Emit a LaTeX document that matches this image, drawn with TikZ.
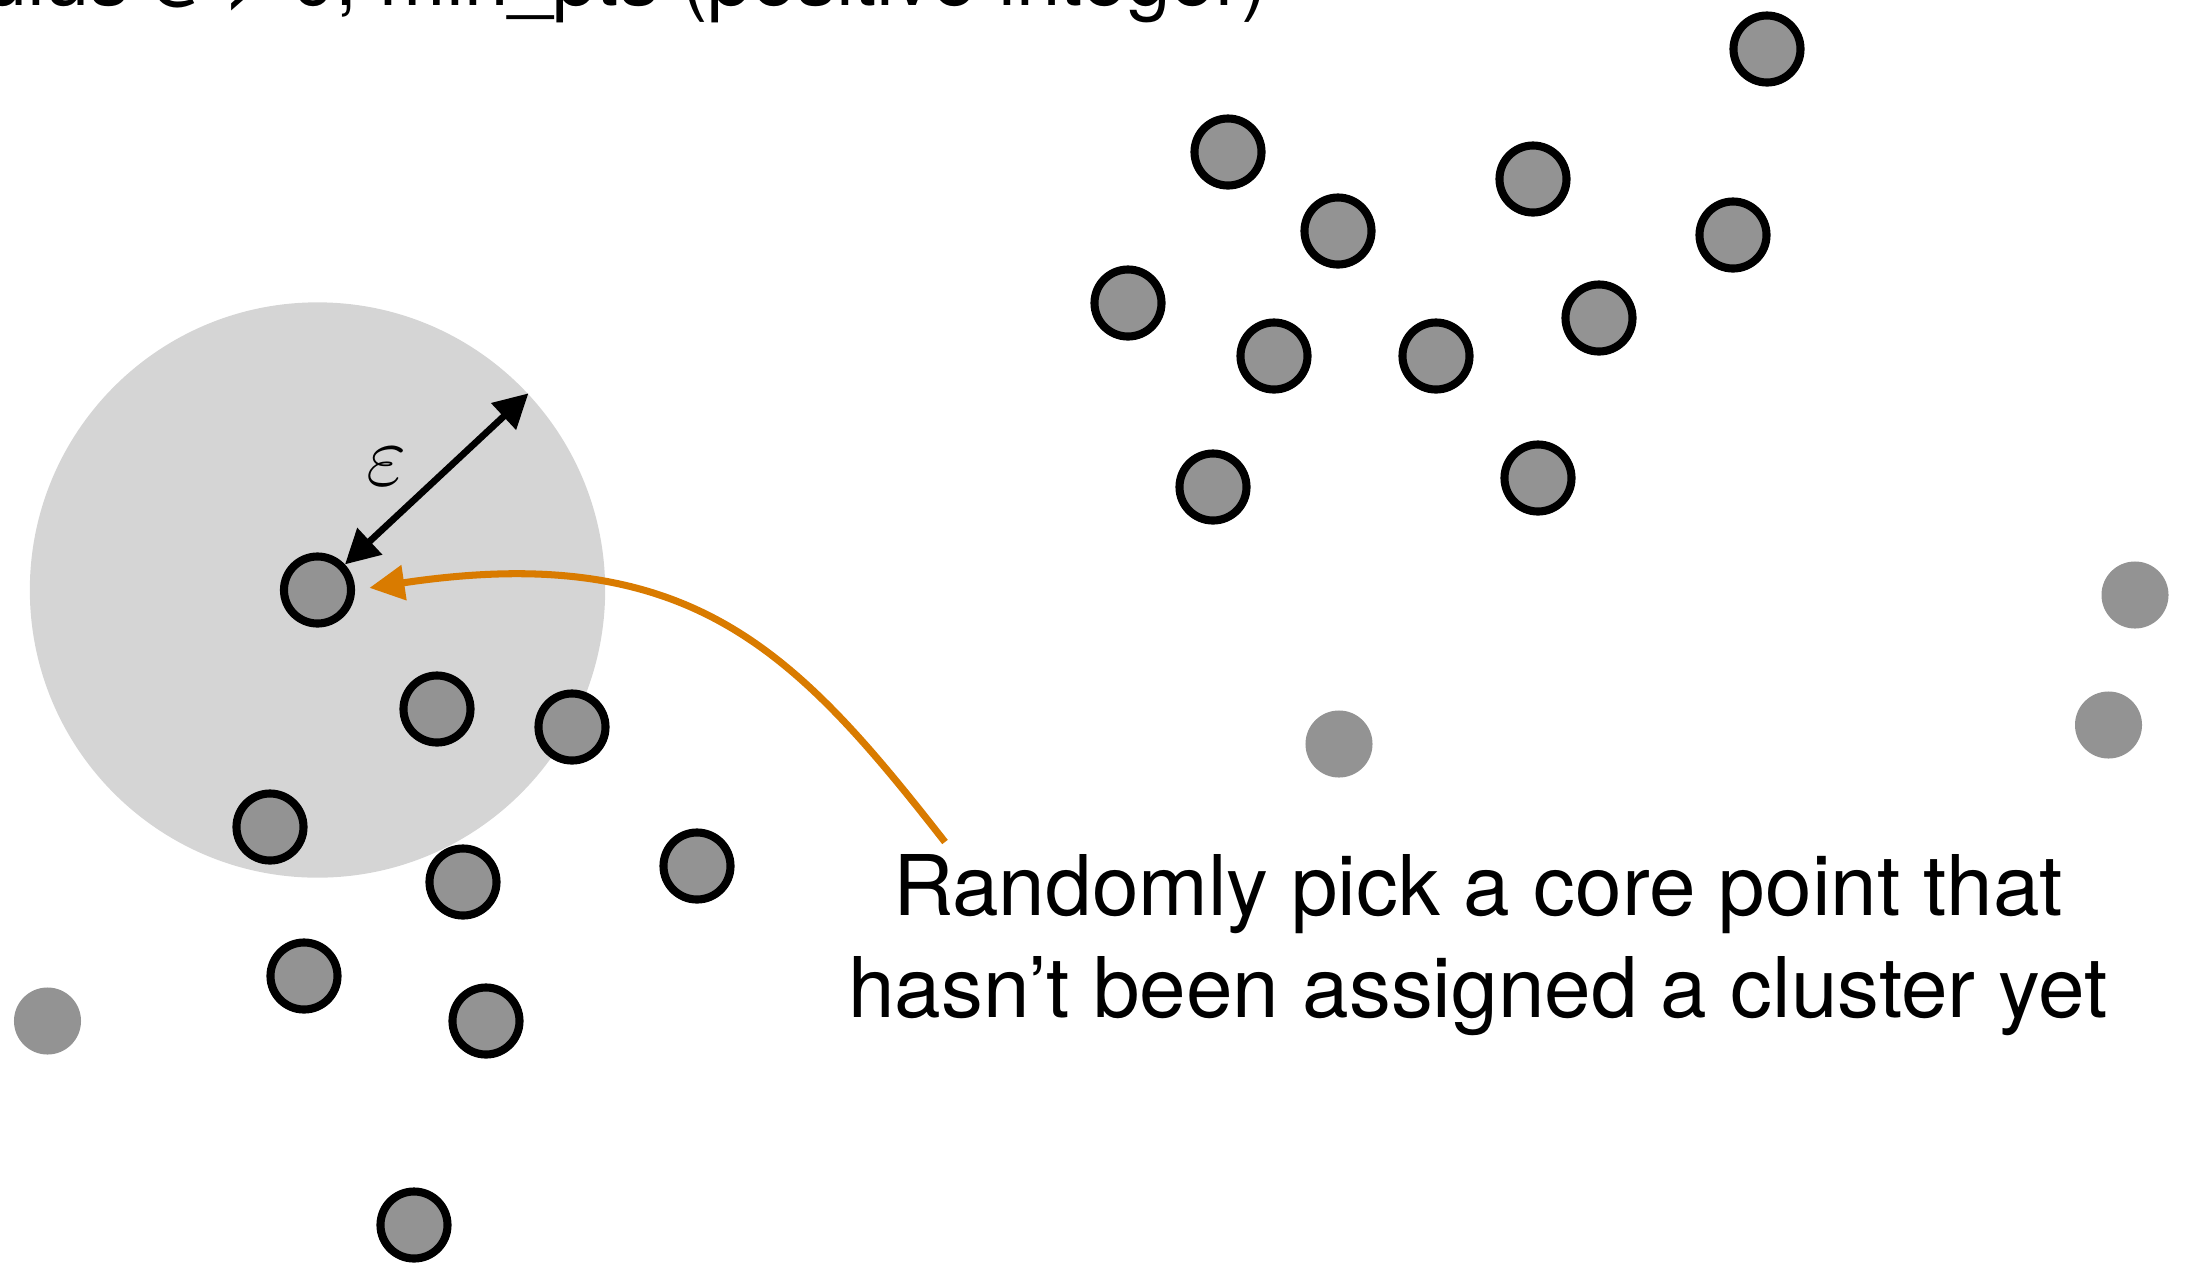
\documentclass[tikz,border=0pt]{standalone}
\usepackage{fontspec}
\setmainfont{TeX Gyre Heros}
\usetikzlibrary{arrows.meta}
\definecolor{ptgray}{RGB}{147,147,147}
\definecolor{halo}{RGB}{213,213,213}
\definecolor{orng}{RGB}{217,123,0}
\begin{document}
\begin{tikzpicture}[x=0.01cm,y=-0.01cm,
  core/.style={circle,draw=black,line width=2.3pt,fill=ptgray,minimum size=0.67cm,inner sep=0pt},
  noise/.style={circle,fill=ptgray,minimum size=0.67cm,inner sep=0pt},
  lbl/.style={font=\fontsize{23.8}{29}\selectfont,inner sep=0pt},
  epsarrow/.style={line width=1.9pt,{Triangle[length=0.34cm,width=0.35cm]}-{Triangle[length=0.34cm,width=0.35cm]}},
  pointer/.style={orng,line width=2pt,-{Triangle[length=0.35cm,width=0.34cm]}}
]
\useasboundingbox (0,0) rectangle (2190,1263);
\clip (0,0) rectangle (2190,1263);
% neighbourhood
\node[circle,fill=halo,minimum size=5.75cm,inner sep=0pt] (ball) at (317.5,590) {};
% right cluster
\node[core] (r1) at (1767,49) {};
\node[core] (r2) at (1228,152) {};
\node[core] (r3) at (1533,179) {};
\node[core] (r4) at (1338,231) {};
\node[core] (r5) at (1733,235) {};
\node[core] (r6) at (1128,303) {};
\node[core] (r7) at (1274,356) {};
\node[core] (r8) at (1436,356) {};
\node[core] (r9) at (1599,318) {};
\node[core] (r10) at (1213,487) {};
\node[core] (r11) at (1538,478) {};
% left cluster
\node[core] (pk) at (317.5,590) {};
\node[core] (l1) at (437,709) {};
\node[core] (l2) at (572,727) {};
\node[core] (l3) at (270,827) {};
\node[core] (l4) at (463,882) {};
\node[core] (l5) at (697,866) {};
\node[core] (l6) at (304,976) {};
\node[core] (l7) at (486,1021) {};
\node[core] (l8) at (414,1225) {};
% noise
\node[noise] (n1) at (47.5,1021) {};
\node[noise] (n2) at (1339,744) {};
\node[noise] (n3) at (2135,595) {};
\node[noise] (n4) at (2108.5,725) {};
% epsilon radius
\draw[epsarrow] (pk.43) -- (ball.43);
\node[font=\fontsize{27}{30}\selectfont,inner sep=0pt] (epslbl) at (387,467) {$\varepsilon$};
% texts
\node[font=\fontsize{22.7}{27}\selectfont,inner sep=0pt,anchor=base east] (top) at (1269,5) {radius ε > 0, min\_pts (positive integer)};
\node[lbl,anchor=base] (t1) at (1478,915) {Randomly pick a core point that};
\node[lbl,anchor=base] (t2) at (1478,1017) {hasn’t been assigned a cluster yet};
% orange pointer
\coordinate (os) at (945,842);
\draw[pointer,shorten >=0.145cm]
  (os) .. controls (795,650) and (690,540) .. (pk.east);
\end{tikzpicture}
\end{document}
